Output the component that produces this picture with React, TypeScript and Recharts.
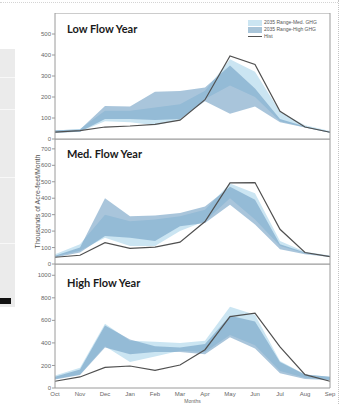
import { ComposedChart, Area, Line, XAxis, YAxis } from 'recharts';

const months = ['Oct', 'Nov', 'Dec', 'Jan', 'Feb', 'Mar', 'Apr', 'May', 'Jun', 'Jul', 'Aug', 'Sep'];

// Low flow year
const lowHist = [33, 40, 57, 62, 70, 90, 187, 395, 355, 132, 57, 32];
const lowMedMin = [30, 35, 85, 80, 65, 90, 190, 255, 200, 85, 55, 30];
const lowMedMax = [40, 48, 135, 135, 150, 165, 230, 380, 320, 130, 65, 38];
const lowHighMin = [30, 35, 95, 95, 90, 95, 180, 120, 155, 80, 55, 30];
const lowHighMax = [42, 45, 157, 155, 225, 228, 245, 350, 240, 95, 60, 35];

// Med flow year
const medHist = [41, 53, 130, 95, 103, 133, 258, 493, 495, 211, 70, 45];
const medMedMin = [45, 80, 160, 110, 110, 200, 260, 400, 270, 110, 65, 45];
const medMedMax = [60, 120, 300, 260, 270, 290, 330, 490, 430, 140, 75, 52];
const medHighMin = [40, 70, 170, 160, 140, 230, 250, 360, 240, 90, 60, 43];
const medHighMax = [50, 100, 400, 290, 295, 310, 350, 470, 390, 120, 70, 48];

// High flow year
const highHist = [60, 98, 183, 195, 157, 204, 340, 633, 665, 364, 118, 60];
const highMedMin = [80, 120, 370, 230, 280, 330, 320, 470, 380, 150, 90, 70];
const highMedMax = [110, 180, 570, 420, 410, 400, 420, 720, 650, 240, 120, 100];
const highHighMin = [75, 115, 360, 300, 320, 320, 300, 450, 350, 130, 80, 70];
const highHighMax = [100, 165, 555, 430, 370, 360, 390, 640, 590, 230, 120, 100];

const lowTicks = [0, 100, 200, 300, 400, 500];
const medTicks = [0, 100, 200, 300, 400, 500, 600, 700];
const highTicks = [0, 200, 400, 600, 800, 1000];

const seriesNames = ['2035 Range-Med. GHG', '2035 Range-High GHG', 'Hist'];

const LIGHT = '#cbe5f2';
const DARK = '#6f9fc3';
const HIST = '#505050';
const AXIS = '#9a9a9a';

const build = (hist: number[], mMin: number[], mMax: number[], hMin: number[], hMax: number[]) =>
  months.map((m, i) => ({ month: m, hist: hist[i], med: [mMin[i], mMax[i]], high: [hMin[i], hMax[i]] }));

const tickStyle = { fill: '#666', fontSize: 6, fontFamily: 'Liberation Sans, Arial, sans-serif' };

function Panel({ rows, max, ticks, top, height, bottom, last, yLabel }: any) {
  return (
    <div style={{ position: 'absolute', left: 0, top }}>
      <ComposedChart width={347} height={height} data={rows}
        margin={{ top: 0, right: 17, bottom, left: 25 }}>
        <XAxis dataKey="month" xAxisId="b" interval={0} stroke={AXIS}
          tick={last ? tickStyle : false} tickLine={!last} mirror={!last} tickSize={3}
          height={last ? 10 : 1} tickMargin={1}
          label={last ? { value: 'Months', position: 'insideBottom', offset: -5, style: { ...tickStyle, fontSize: 5 } } : undefined} />
        <XAxis dataKey="month" xAxisId="t" orientation="top" interval={0} stroke={AXIS}
          tick={false} mirror tickSize={3} height={1} />
        <YAxis yAxisId="l" domain={[0, max]} ticks={ticks} width={30} stroke={AXIS}
          tick={tickStyle} tickSize={3} tickMargin={1} interval={0}
          label={yLabel ? {
            value: yLabel, angle: -90, position: 'insideLeft', offset: 13,
            style: { fill: '#555', fontSize: 7, fontFamily: 'Liberation Sans, Arial, sans-serif', textAnchor: 'middle' },
          } : undefined} />
        <YAxis yAxisId="r" orientation="right" domain={[0, max]} ticks={ticks} width={1}
          stroke={AXIS} tick={false} mirror tickSize={3} />
        <Area xAxisId="b" yAxisId="l" dataKey="med" name={seriesNames[0]} type="linear"
          stroke="none" fill={LIGHT} fillOpacity={1} isAnimationActive={false} />
        <Area xAxisId="b" yAxisId="l" dataKey="high" name={seriesNames[1]} type="linear"
          stroke="none" fill={DARK} fillOpacity={0.6} isAnimationActive={false} />
        <Line xAxisId="b" yAxisId="l" dataKey="hist" name={seriesNames[2]} type="linear"
          stroke={HIST} strokeWidth={1.2} dot={false} isAnimationActive={false} />
      </ComposedChart>
    </div>
  );
}

const titleStyle: any = {
  position: 'absolute', left: 67, fontFamily: 'Lato, sans-serif', fontWeight: 700,
  fontSize: 11, color: '#1a1a1a', whiteSpace: 'nowrap',
};

export default function App() {
  const lowRows = build(lowHist, lowMedMin, lowMedMax, lowHighMin, lowHighMax);
  const medRows = build(medHist, medMedMin, medMedMax, medHighMin, medHighMax);
  const highRows = build(highHist, highMedMin, highMedMax, highHighMin, highHighMax);

  return (
    <div style={{ position: 'absolute', left: 0, top: 0, width: 347, height: 404, background: '#fff', overflow: 'hidden' }}>
      {/* page surroundings */}
      <div style={{ position: 'absolute', left: 0, top: 49, width: 15, height: 258, background: '#ebebeb' }} />
      <div style={{ position: 'absolute', left: 0, top: 77, width: 15, height: 1, background: '#f8f8f8' }} />
      <div style={{ position: 'absolute', left: 0, top: 109, width: 15, height: 1, background: '#f8f8f8' }} />
      <div style={{ position: 'absolute', left: 0, top: 177, width: 15, height: 1, background: '#f8f8f8' }} />
      <div style={{ position: 'absolute', left: 0, top: 243, width: 15, height: 1, background: '#f8f8f8' }} />
      <div style={{ position: 'absolute', left: 0, top: 298, width: 11, height: 6, background: '#111' }} />
      <div style={{ position: 'absolute', left: 338, top: 0, width: 0, height: 404, borderLeft: '1.5px dotted #c4c4c4' }} />
      <div style={{ position: 'absolute', left: 0, top: 2, width: 338, height: 0, borderTop: '1.5px dotted #d4d4d4' }} />

      <Panel rows={lowRows} max={600} ticks={lowTicks} top={13} height={132} bottom={6} />
      <Panel rows={medRows} max={760} ticks={medTicks} top={139} height={131} bottom={6}
        yLabel="Thousands of Acre-feet/Month" />
      <Panel rows={highRows} max={1100} ticks={highTicks} top={264} height={140} bottom={6} last />

      <div style={{ ...titleStyle, top: 22 }}>Low Flow Year</div>
      <div style={{ ...titleStyle, top: 147 }}>Med. Flow Year</div>
      <div style={{ ...titleStyle, top: 276 }}>High Flow Year</div>

      <div style={{
        position: 'absolute', left: 248, top: 19, width: 80, fontSize: 5,
        fontFamily: 'Liberation Sans, Arial, sans-serif', color: '#555', lineHeight: '7px',
      }}>
        {seriesNames.map((n, i) => (
          <div key={n} style={{ display: 'flex', alignItems: 'center', height: 7 }}>
            <span style={{
              display: 'inline-block', width: 14, marginRight: 2,
              height: i < 2 ? 6 : 0, background: i === 0 ? LIGHT : i === 1 ? '#a9c5d9' : 'none',
              borderTop: i === 2 ? `1px solid ${HIST}` : 'none',
            }} />
            {n}
          </div>
        ))}
      </div>
    </div>
  );
}
